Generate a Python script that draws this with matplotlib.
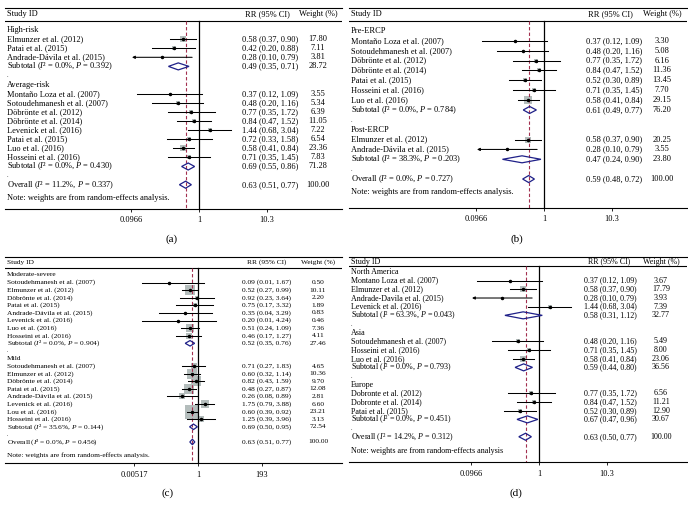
import numpy as np
import matplotlib
matplotlib.use("Agg")
import matplotlib.pyplot as plt
from matplotlib.patches import Polygon

plt.rcParams['font.family'] = ['Liberation Serif', 'DejaVu Serif']
plt.rcParams['mathtext.fontset'] = 'custom'
plt.rcParams['mathtext.rm'] = 'Liberation Serif'
plt.rcParams['mathtext.it'] = 'Liberation Serif:italic'

# ---------------- Panel (a) data ----------------
A_GROUPS = ["High-risk", "Average-risk"]
A_STUDIES = [["Elmunzer et al. (2012)", "Patai et al. (2015)", "Andrade-Dávila et al. (2015)"],
             ["Montaño Loza et al. (2007)", "Sotoudehmanesh et al. (2007)", "Döbrönte et al. (2012)",
              "Döbrönte et al. (2014)", "Levenick et al. (2016)", "Patai et al. (2015)",
              "Luo et al. (2016)", "Hosseini et al. (2016)"]]
A_RR = [[0.58, 0.42, 0.28], [0.37, 0.48, 0.77, 0.84, 1.44, 0.72, 0.58, 0.71]]
A_LO = [[0.37, 0.20, 0.10], [0.12, 0.20, 0.35, 0.47, 0.68, 0.33, 0.41, 0.35]]
A_HI = [[0.90, 0.88, 0.79], [1.09, 1.16, 1.72, 1.52, 3.04, 1.58, 0.84, 1.45]]
A_WT = [[17.80, 7.11, 3.81], [3.55, 5.34, 6.39, 11.05, 7.22, 6.54, 23.36, 7.83]]
A_SUB_I2 = ["0.0", "0.0"]
A_SUB_P = ["0.392", "0.430"]
A_SUB_RR = [0.49, 0.69]
A_SUB_LO = [0.35, 0.55]
A_SUB_HI = [0.71, 0.86]
A_SUB_WT = [28.72, 71.28]
A_OV = dict(i2="11.2", p="0.337", rr=0.63, lo=0.51, hi=0.77, wt=100.00)
A_TICKS = [0.0966, 1, 10.3]
A_TICKLABELS = ["0.0966", "1", "10.3"]

# ---------------- Panel (b) data ----------------
B_GROUPS = ["Pre-ERCP", "Post-ERCP"]
B_STUDIES = [["Montaño Loza et al. (2007)", "Sotoudehmanesh et al. (2007)", "Döbrönte et al. (2012)",
              "Döbrönte et al. (2014)", "Patai et al. (2015)", "Hosseini et al. (2016)", "Luo et al. (2016)"],
             ["Elmunzer et al. (2012)", "Andrade-Dávila et al. (2015)"]]
B_RR = [[0.37, 0.48, 0.77, 0.84, 0.52, 0.71, 0.58], [0.58, 0.28]]
B_LO = [[0.12, 0.20, 0.35, 0.47, 0.30, 0.35, 0.41], [0.37, 0.10]]
B_HI = [[1.09, 1.16, 1.72, 1.52, 0.89, 1.45, 0.84], [0.90, 0.79]]
B_WT = [[3.30, 5.08, 6.16, 11.36, 13.45, 7.70, 29.15], [20.25, 3.55]]
B_SUB_I2 = ["0.0", "38.3"]
B_SUB_P = ["0.784", "0.203"]
B_SUB_RR = [0.61, 0.47]
B_SUB_LO = [0.49, 0.24]
B_SUB_HI = [0.77, 0.90]
B_SUB_WT = [76.20, 23.80]
B_OV = dict(i2="0.0", p="0.727", rr=0.59, lo=0.48, hi=0.72, wt=100.00)
B_TICKS = [0.0966, 1, 10.3]
B_TICKLABELS = ["0.0966", "1", "10.3"]

# ---------------- Panel (c) data ----------------
C_GROUPS = ["Moderate-severe", "Mild"]
C_STUDIES = [["Sotoudehmanesh et al. (2007)", "Elmunzer et al. (2012)", "Döbrönte et al. (2014)",
              "Patai et al. (2015)", "Andrade-Dávila et al. (2015)", "Levenick et al. (2016)",
              "Luo et al. (2016)", "Hosseini et al. (2016)"],
             ["Sotoudehmanesh et al. (2007)", "Elmunzer et al. (2012)", "Döbrönte et al. (2014)",
              "Patai et al. (2015)", "Andrade-Dávila et al. (2015)", "Levenick et al. (2016)",
              "Lou et al. (2016)", "Hosseini et al. (2016)"]]
C_RR = [[0.09, 0.52, 0.92, 0.75, 0.35, 0.20, 0.51, 0.46], [0.71, 0.60, 0.82, 0.48, 0.26, 1.75, 0.60, 1.25]]
C_LO = [[0.01, 0.27, 0.23, 0.17, 0.04, 0.01, 0.24, 0.17], [0.27, 0.32, 0.43, 0.27, 0.08, 0.79, 0.39, 0.39]]
C_HI = [[1.67, 0.99, 3.64, 3.32, 3.29, 4.24, 1.09, 1.27], [1.83, 1.14, 1.59, 0.87, 0.89, 3.88, 0.92, 3.96]]
C_WT = [[0.50, 10.11, 2.20, 1.89, 0.83, 0.46, 7.36, 4.11], [4.65, 10.36, 9.70, 12.08, 2.81, 6.60, 23.21, 3.13]]
C_SUB_I2 = ["0.0", "35.6"]
C_SUB_P = ["0.904", "0.144"]
C_SUB_RR = [0.52, 0.69]
C_SUB_LO = [0.35, 0.50]
C_SUB_HI = [0.76, 0.95]
C_SUB_WT = [27.46, 72.54]
C_OV = dict(i2="0.0", p="0.456", rr=0.63, lo=0.51, hi=0.77, wt=100.00)
C_TICKS = [0.00517, 1, 193]
C_TICKLABELS = ["0.00517", "1", "193"]

# ---------------- Panel (d) data ----------------
D_GROUPS = ["North America", "Asia", "Europe"]
D_STUDIES = [["Montano Loza et al. (2007)", "Elmunzer et al. (2012)", "Andrade-Davila et al. (2015)",
              "Levenick et al. (2016)"],
             ["Sotoudehmanesh et al. (2007)", "Hosseini et al. (2016)", "Luo et al. (2016)"],
             ["Dobronte et al. (2012)", "Dobronte et al. (2014)", "Patai et al. (2015)"]]
D_RR = [[0.37, 0.58, 0.28, 1.44], [0.48, 0.71, 0.58], [0.77, 0.84, 0.52]]
D_LO = [[0.12, 0.37, 0.10, 0.68], [0.20, 0.35, 0.41], [0.35, 0.47, 0.30]]
D_HI = [[1.09, 0.90, 0.79, 3.04], [1.16, 1.45, 0.84], [1.72, 1.52, 0.89]]
D_WT = [[3.67, 17.79, 3.93, 7.39], [5.49, 8.00, 23.06], [6.56, 11.21, 12.90]]
D_SUB_I2 = ["63.3", "0.0", "0.0"]
D_SUB_P = ["0.043", "0.793", "0.451"]
D_SUB_RR = [0.58, 0.59, 0.67]
D_SUB_LO = [0.31, 0.44, 0.47]
D_SUB_HI = [1.12, 0.80, 0.96]
D_SUB_WT = [32.77, 36.56, 30.67]
D_OV = dict(i2="14.2", p="0.312", rr=0.63, lo=0.50, hi=0.77, wt=100.00)
D_TICKS = [0.0966, 1, 10.3]
D_TICKLABELS = ["0.0966", "1", "10.3"]

W, H = 688, 515
BOX_COLOR = "#b4bdbc"
DIAM_COLOR = "#1f2088"
DASH_COLOR = "#a3304f"

fig = plt.figure(figsize=(W / 100, H / 100), dpi=100)


def stat_label(prefix, i2, p):
    return prefix + r" ($I$² = " + i2 + r"%, $P$ = " + p + ")"


def panel(g, groups, studies, rr, lo, hi, wt, s_i2, s_p, s_rr, s_lo, s_hi, s_wt, ov,
          ticks, ticklabels, note, letter):
    FS = g['fs']
    left, right, top, bottom = g['left'], g['right'], g['top'], g['bottom']
    x1, dec = g['x1'], g['dec']
    ax = fig.add_axes([left / W, 1 - bottom / H, (right - left) / W, (bottom - top) / H])
    ax.set_xscale('log')
    ax.set_xlim(10 ** ((left - x1) / dec), 10 ** ((right - x1) / dec))
    ax.set_ylim(bottom, top)

    def px(xp):
        return 10 ** ((xp - x1) / dec)

    for s in ['left', 'right']:
        ax.spines[s].set_visible(False)
    ax.spines['top'].set_linewidth(0.8)
    ax.spines['bottom'].set_linewidth(0.8)
    ax.set_yticks([])
    ax.set_xticks(ticks)
    ax.set_xticklabels(ticklabels)
    ax.minorticks_off()
    ax.tick_params(axis='x', length=2.5, width=0.6, labelsize=g['tfs'], pad=3.0)
    ax.axhline(g['under'], color='k', lw=0.8)

    lx = px(g['label_x'])
    vx = px(g['val_x'])
    wx = px(g['wt_x'])
    ax.text(lx, g['head'], "Study ID", fontsize=FS, va='center', ha='left')
    ax.text(px(g['rr_head_x']), g['head'], "RR (95% CI)", fontsize=FS, va='center', ha='center')
    ax.text(wx, g['head'], "Weight (%)", fontsize=FS, va='center', ha='center')

    r = 0
    y = lambda i: g['r0'] + i * g['dy']
    k = g['box_k'] * 0.72
    dh = g['diam_h']

    def values(yy, a, b, c, w):
        ax.text(vx, yy, f"{a:.2f} ({b:.2f}, {c:.2f})", fontsize=FS, va='center', ha='left')
        ax.text(wx, yy, f"{w:.2f}", fontsize=FS, va='center', ha='center')

    def diamond(yy, a, b, c):
        ax.add_patch(Polygon([(b, yy), (a, yy - dh / 2), (c, yy), (a, yy + dh / 2)],
                             closed=True, fill=False, edgecolor=DIAM_COLOR, lw=0.9, zorder=5))

    for gi, gname in enumerate(groups):
        ax.text(lx, y(r), gname, fontsize=FS, va='center', ha='left')
        r += 1
        for si, sname in enumerate(studies[gi]):
            yy = y(r)
            a, b, c, w = rr[gi][si], lo[gi][si], hi[gi][si], wt[gi][si]
            ax.text(lx, yy, sname, fontsize=FS, va='center', ha='left')
            ax.scatter([a], [yy], marker='s', s=(k * np.sqrt(w)) ** 2, color=BOX_COLOR,
                       linewidths=0, zorder=1)
            if b <= g['range_lo']:
                ax.annotate('', xy=(b, yy), xytext=(c, yy),
                            arrowprops=dict(arrowstyle='-|>', lw=0.75, color='k',
                                            mutation_scale=4, shrinkA=0, shrinkB=0), zorder=3)
            else:
                ax.plot([b, c], [yy, yy], color='k', lw=0.75, zorder=3)
            ax.plot([a], [yy], 'o', color='k', ms=1.5, zorder=4)
            values(yy, a, b, c, w)
            r += 1
        yy = y(r)
        ax.text(lx, yy, stat_label("Subtotal", s_i2[gi], s_p[gi]), fontsize=FS, va='center', ha='left')
        diamond(yy, s_rr[gi], s_lo[gi], s_hi[gi])
        values(yy, s_rr[gi], s_lo[gi], s_hi[gi], s_wt[gi])
        r += 1
        ax.text(lx, y(r) + g['dy'] * 0.2, ".", fontsize=FS * 0.75, va='baseline', ha='left')
        r += 1
    yy = y(r - 1) + g['dy']
    ax.text(lx, yy, stat_label("Overall", ov['i2'], ov['p']), fontsize=FS, va='center', ha='left')
    diamond(yy, ov['rr'], ov['lo'], ov['hi'])
    values(yy, ov['rr'], ov['lo'], ov['hi'], ov['wt'])
    ax.text(lx, g['note'], note, fontsize=FS, va='center', ha='left')

    ax.plot([1, 1], [g['under'], bottom], color='k', lw=0.9, zorder=2)
    ax.plot([ov['rr'], ov['rr']], [g['under'], bottom], color=DASH_COLOR, lw=0.8,
            dashes=(3, 2), zorder=2)

    fig.text(g['letter_x'] / W, 1 - g['letter_y'] / H, letter, fontsize=8,
             ha='center', va='center')


GA = dict(left=5, right=342, top=7.5, bottom=208.5, x1=199, dec=67, r0=30, dy=9.1, fs=6.0, tfs=6.0,
          head=14.5, under=21, note=197.5, val_x=242, wt_x=318, rr_head_x=267, label_x=7,
          letter_x=172, letter_y=239, box_k=1.3, diam_h=7, range_lo=0.1)
GB = dict(left=349, right=687, top=7.5, bottom=207.5, x1=544, dec=67, r0=31, dy=9.87, fs=6.0, tfs=6.0,
          head=14.5, under=20.5, note=192, val_x=586, wt_x=662, rr_head_x=610, label_x=351,
          letter_x=517, letter_y=239, box_k=1.3, diam_h=7, range_lo=0.1)
GC = dict(left=5, right=342, top=257, bottom=463, x1=198, dec=28, r0=275, dy=7.59, fs=5.35, tfs=6.0,
          head=262.5, under=268, note=455, val_x=242, wt_x=318, rr_head_x=267, label_x=7,
          letter_x=168, letter_y=493, box_k=3.0, diam_h=5.5, range_lo=0.005)
GD = dict(left=349, right=687, top=257, bottom=462, x1=539, dec=67, r0=272, dy=8.67, fs=5.75, tfs=6.0,
          head=261.5, under=266, note=451, val_x=584, wt_x=661, rr_head_x=609, label_x=351,
          letter_x=516, letter_y=493, box_k=1.35, diam_h=7, range_lo=0.1)

NOTE = "Note: weights are from random-effects analysis."
panel(GA, A_GROUPS, A_STUDIES, A_RR, A_LO, A_HI, A_WT, A_SUB_I2, A_SUB_P, A_SUB_RR, A_SUB_LO,
      A_SUB_HI, A_SUB_WT, A_OV, A_TICKS, A_TICKLABELS, NOTE, "(a)")
panel(GB, B_GROUPS, B_STUDIES, B_RR, B_LO, B_HI, B_WT, B_SUB_I2, B_SUB_P, B_SUB_RR, B_SUB_LO,
      B_SUB_HI, B_SUB_WT, B_OV, B_TICKS, B_TICKLABELS, NOTE, "(b)")
panel(GC, C_GROUPS, C_STUDIES, C_RR, C_LO, C_HI, C_WT, C_SUB_I2, C_SUB_P, C_SUB_RR, C_SUB_LO,
      C_SUB_HI, C_SUB_WT, C_OV, C_TICKS, C_TICKLABELS, NOTE, "(c)")
panel(GD, D_GROUPS, D_STUDIES, D_RR, D_LO, D_HI, D_WT, D_SUB_I2, D_SUB_P, D_SUB_RR, D_SUB_LO,
      D_SUB_HI, D_SUB_WT, D_OV, D_TICKS, D_TICKLABELS, NOTE.rstrip('.'), "(d)")

fig.savefig("out.png", dpi=100)
